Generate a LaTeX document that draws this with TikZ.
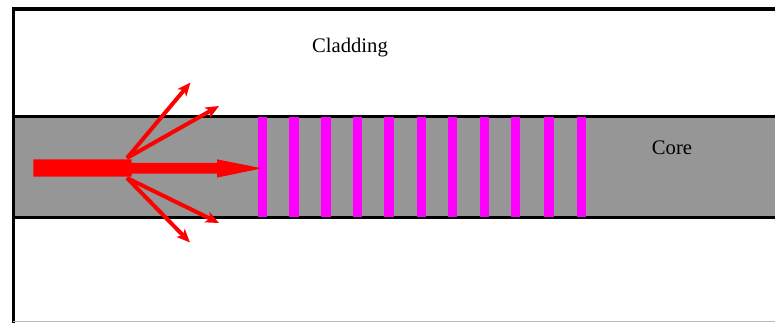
\documentclass[tikz,border=0pt]{standalone}
\usepackage{fontspec}
\setmainfont{Liberation Serif}
\usetikzlibrary{arrows.meta}
\definecolor{coregray}{RGB}{150,150,150}
\definecolor{gratingmag}{RGB}{255,0,255}
\definecolor{lightred}{RGB}{255,0,0}
\tikzset{
  frameline/.style={draw=black,line width=2.4pt},
  bandline/.style={draw=black,line width=2.3pt},
  grating/.style={fill=gratingmag},
  scatterray/.style={draw=lightred,line width=3pt,-{Stealth[length=10pt,width=8.5pt,inset=2.5pt]}},
  lbl/.style={font=\fontsize{15.5}{18}\selectfont,anchor=base,inner sep=0pt}
}
\begin{document}
\begin{tikzpicture}[x=0.75pt,y=-0.75pt]
\useasboundingbox (0,0) rectangle (775,322);
\clip (0,0) rectangle (775,322);
% core band
\fill[coregray] (13.3,116.7) rectangle (780,217.7);
\draw[bandline] (12,116.7) -- (780,116.7);
\draw[bandline] (12,217.7) -- (780,217.7);
% outer frame
\draw[frameline] (13.3,330) -- (13.3,9) -- (780,9);
\draw[gray!55,line width=0.75pt] (13.3,321.5) -- (780,321.5);
% grating bars
\foreach \cx in {262.5,294,326,357.5,389,421.5,452.5,484.5,515.5,549,581.5}{
  \fill[grating] (\cx-4.6,116.7) rectangle (\cx+4.6,217.3);
}
% scattered rays
\coordinate (su) at (127,158);
\coordinate (sl) at (127,178);
\coordinate (t1) at (190.5,82.5);
\coordinate (t2) at (219,106);
\coordinate (t3) at (219,223);
\coordinate (t4) at (190,242.5);
\draw[scatterray] (su) -- (t1);
\draw[scatterray] (su) -- (t2);
\draw[scatterray] (sl) -- (t3);
\draw[scatterray] (sl) -- (t4);
% main input arrow
\fill[lightred] (33.3,159.3) -- (131.5,159.3) -- (131.5,162.8) -- (217,162.8) -- (217,159.3)
  -- (262,168.3) -- (217,177.6) -- (217,173.5) -- (131.5,173.5) -- (131.5,176.7) -- (33.3,176.7) -- cycle;
% labels
\node[lbl] (clad) at (350,52.3) {Cladding};
\node[lbl] (core) at (672,154.5) {Core};
\end{tikzpicture}
\end{document}
